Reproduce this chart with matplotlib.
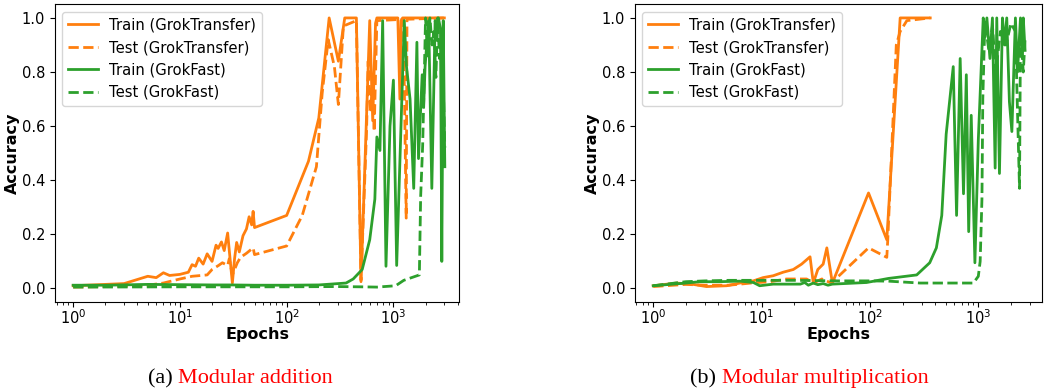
import numpy as np
import matplotlib
matplotlib.use("Agg")
import matplotlib.pyplot as plt

# --- modular addition ---
add_gt_train_ep = [1, 2, 3, 5, 6, 7, 8, 10, 12, 13, 14, 15, 16.5, 18, 20, 21.8, 22.8, 24.5,
                   26, 28, 29, 31, 32.5, 34, 36, 39, 42, 44.5, 47, 48.5, 50, 100, 160, 200,
                   250, 305, 350, 450, 497, 600, 640, 680, 700, 1100, 1150, 1180, 1220, 3000]
add_gt_train_acc = [0.010, 0.015, 0.018, 0.045, 0.040, 0.058, 0.048, 0.052, 0.060, 0.088,
                    0.082, 0.112, 0.090, 0.128, 0.100, 0.160, 0.148, 0.172, 0.140, 0.205,
                    0.140, 0.020, 0.110, 0.170, 0.135, 0.195, 0.220, 0.265, 0.235, 0.285,
                    0.225, 0.270, 0.470, 0.630, 1.000, 0.840, 1.000, 1.000, 0.025, 0.990,
                    0.620, 0.980, 1.000, 1.000, 0.700, 0.990, 1.000, 1.000]

add_gt_test_ep = [1, 3, 5, 7, 10, 13, 18, 20, 23, 25, 28, 29, 31, 32.5, 34.5, 37, 42, 48.5,
                  50, 100, 140, 190, 215, 245, 280, 305, 340, 420, 450, 497, 560, 580, 610,
                  640, 660, 700, 1240, 1318, 1340, 3000]
add_gt_test_acc = [0.005, 0.008, 0.012, 0.020, 0.035, 0.045, 0.050, 0.070, 0.085, 0.095,
                   0.085, 0.110, 0.050, 0.070, 0.095, 0.115, 0.130, 0.150, 0.125, 0.157,
                   0.270, 0.450, 0.720, 0.920, 0.820, 0.680, 0.970, 0.985, 0.990, 0.030,
                   0.580, 0.840, 0.660, 0.760, 0.580, 0.990, 0.995, 0.260, 0.995, 1.000]

add_gf_train_ep = [1, 2, 5, 10, 20, 30, 50, 100, 200, 360, 420, 510, 600, 670, 700, 748, 793,
                   852, 929, 1000, 1073, 1264, 1326, 1432, 1550, 1660, 1718, 1860, 1920, 1980,
                   2050, 2140, 2290, 2460, 2560, 2640, 2760, 2840, 2930, 3030]
add_gf_train_acc = [0.012, 0.012, 0.015, 0.014, 0.013, 0.013, 0.012, 0.012, 0.013, 0.020,
                    0.035, 0.070, 0.180, 0.330, 0.560, 0.510, 0.990, 0.082, 0.600, 0.770,
                    0.085, 0.990, 0.820, 0.700, 0.370, 0.910, 0.480, 0.790, 0.670, 0.820,
                    0.900, 0.990, 0.370, 0.990, 0.950, 1.000, 0.960, 0.100, 0.990, 0.450]

add_gf_test_ep = [1, 10, 100, 300, 500, 700, 1050, 1250, 1750, 1800, 1880, 1950, 2000, 2100,
                  2200, 2300, 2400, 2500, 2600, 2700, 2850, 3030]
add_gf_test_acc = [0.005, 0.006, 0.006, 0.007, 0.006, 0.005, 0.010, 0.030, 0.050, 0.340,
                   0.530, 0.800, 1.000, 0.850, 1.000, 0.900, 0.950, 0.780, 1.000, 0.850,
                   0.950, 0.520]

# --- modular multiplication ---
mul_gt_train_ep = [1, 1.64, 2.34, 3.1, 4.75, 6.3, 8.4, 10.3, 12.8, 15.8, 19.6, 23.4, 28, 30,
                   33, 37, 40, 43, 45, 97, 143, 190, 360]
mul_gt_train_acc = [0.010, 0.020, 0.015, 0.007, 0.010, 0.020, 0.028, 0.040, 0.047, 0.060,
                    0.070, 0.090, 0.117, 0.020, 0.070, 0.090, 0.150, 0.070, 0.020, 0.353,
                    0.180, 1.000, 1.000]

mul_gt_test_ep = [1, 2, 3, 5, 8, 12, 17, 26, 30, 36, 44, 97, 143, 146, 175, 190, 219, 360]
mul_gt_test_acc = [0.007, 0.015, 0.012, 0.012, 0.020, 0.025, 0.035, 0.035, 0.020, 0.035,
                   0.020, 0.150, 0.115, 0.180, 0.900, 0.950, 0.990, 1.000]

mul_gf_train_ep = [1, 2, 2.7, 4.1, 6.3, 8.4, 9.6, 12.8, 17, 22.8, 25, 27, 30, 33, 37, 41, 45,
                   93, 148, 270, 356, 410, 460, 505, 587, 630, 680, 730, 775, 815, 860, 930,
                   1000, 1110, 1156, 1200, 1280, 1350, 1430, 1480, 1567, 1670, 1750, 1830,
                   1936, 2040, 2200, 2300, 2450, 2550, 2600, 2700]
mul_gf_train_acc = [0.010, 0.020, 0.025, 0.025, 0.027, 0.022, 0.010, 0.016, 0.016, 0.016,
                    0.022, 0.012, 0.020, 0.014, 0.018, 0.012, 0.016, 0.022, 0.037, 0.050,
                    0.095, 0.150, 0.270, 0.570, 0.820, 0.270, 0.850, 0.350, 0.790, 0.210,
                    0.640, 0.095, 0.550, 1.000, 0.930, 1.000, 0.850, 1.000, 0.445, 1.000,
                    0.425, 1.000, 0.900, 1.000, 0.690, 0.580, 1.000, 0.800, 1.000, 0.850,
                    1.000, 0.880]

mul_gf_test_ep = [1, 2, 3, 5, 10, 20, 50, 100, 148, 290, 587, 900, 1000, 1040, 1080, 1100,
                  1150, 1250, 1350, 1450, 1600, 1800, 2000, 2200, 2400, 2450, 2600, 2700]
mul_gf_test_acc = [0.010, 0.025, 0.028, 0.030, 0.030, 0.030, 0.028, 0.028, 0.027, 0.020,
                   0.020, 0.020, 0.045, 0.100, 0.330, 0.700, 0.990, 0.880, 0.970, 0.800,
                   0.950, 0.900, 0.980, 0.950, 0.370, 0.950, 0.800, 0.920]

ORANGE = "#ff7f0e"
GREEN = "#2ca02c"

fig = plt.figure(figsize=(10.44, 3.89), dpi=100)
ax1 = fig.add_axes([0.0527, 0.2237, 0.387, 0.765])
ax2 = fig.add_axes([0.6082, 0.2237, 0.390, 0.765])

panels = [
    (ax1, add_gt_train_ep, add_gt_train_acc, add_gt_test_ep, add_gt_test_acc,
     add_gf_train_ep, add_gf_train_acc, add_gf_test_ep, add_gf_test_acc, (0.676, 4120)),
    (ax2, mul_gt_train_ep, mul_gt_train_acc, mul_gt_test_ep, mul_gt_test_acc,
     mul_gf_train_ep, mul_gf_train_acc, mul_gf_test_ep, mul_gf_test_acc, (0.678, 3880)),
]

for ax, gtx, gty, gtxt, gtyt, gfx, gfy, gfxt, gfyt, xlim in panels:
    ax.plot(gtx, gty, color=ORANGE, lw=2, label="Train (GrokTransfer)")
    ax.plot(gtxt, gtyt, color=ORANGE, lw=2, ls="--", label="Test (GrokTransfer)")
    ax.plot(gfx, gfy, color=GREEN, lw=2, label="Train (GrokFast)")
    ax.plot(gfxt, gfyt, color=GREEN, lw=2, ls="--", label="Test (GrokFast)")
    ax.set_xscale("log")
    ax.set_xlim(*xlim)
    ax.set_ylim(-0.05, 1.05)
    ax.set_xlabel("Epochs", fontsize=11.5, fontweight="bold", labelpad=0)
    ax.set_ylabel("Accuracy", fontsize=11.5, fontweight="bold", labelpad=1)
    ax.tick_params(labelsize=10.5)
    ax.tick_params(axis="x", which="both", pad=1)
    ax.legend(loc="upper left", fontsize=10.6)

# captions below each panel: black tag, red title
serif = "Liberation Serif"
for x0, tag, name in [(0.1418, "(a) ", "Modular addition"), (0.661, "(b) ", "Modular multiplication")]:
    t = fig.text(x0, 0.0154, tag, fontsize=16, family=serif, color="black", va="baseline")
    ax1.annotate(name, xy=(1, 0), xycoords=t, va="bottom", ha="left",
                 fontsize=16, family=serif, color="red", annotation_clip=False)

fig.savefig("out.png", dpi=100)
